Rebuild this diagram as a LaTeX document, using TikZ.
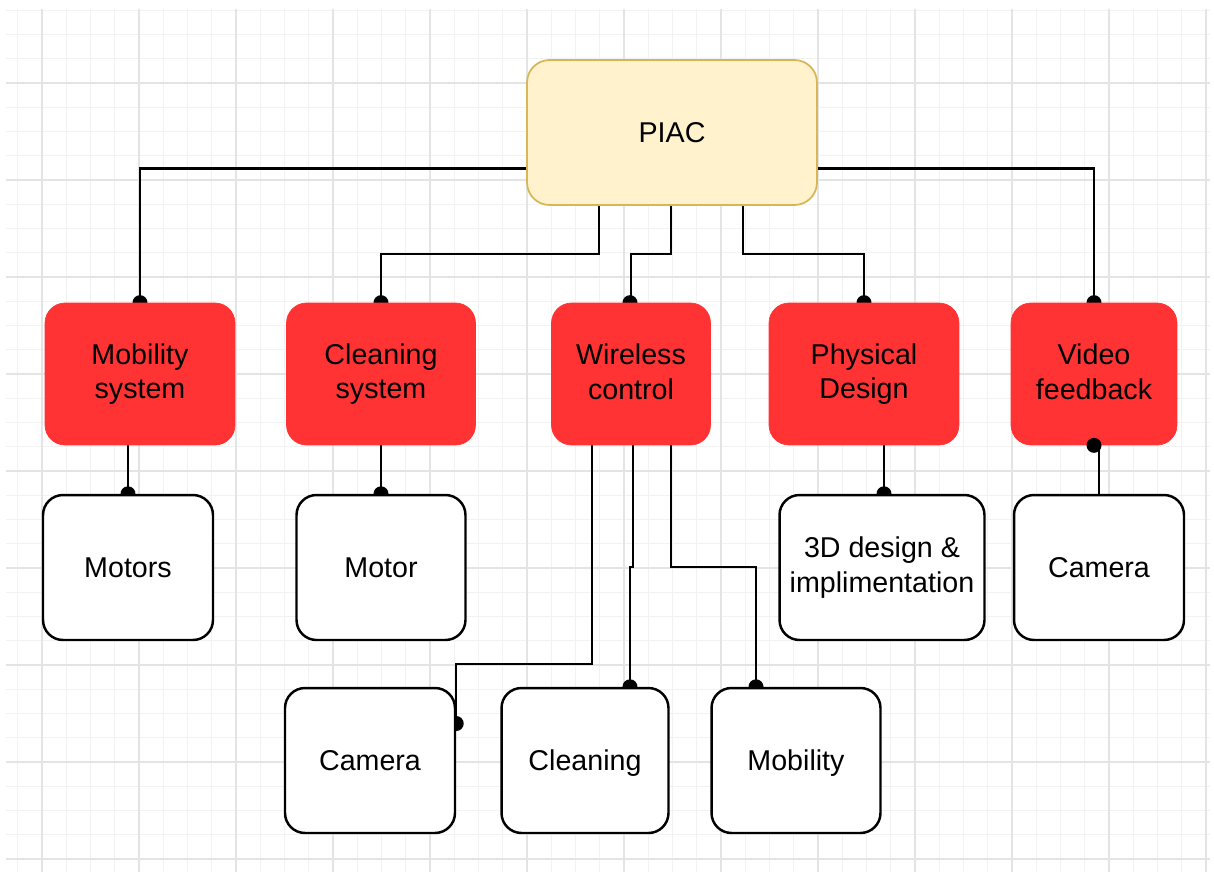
\documentclass[tikz,border=0pt]{standalone}
\usepackage{fontspec}
\setmainfont{Liberation Sans}
\usetikzlibrary{backgrounds}

\definecolor{piacfill}{HTML}{FFF2CC}
\definecolor{piacline}{HTML}{D6B656}
\definecolor{boxred}{HTML}{FF3333}
\definecolor{gridminor}{HTML}{F2F2F2}
\definecolor{gridmajor}{HTML}{E4E4E4}

% strut centred on the capital letters
\newcommand{\capstrut}{\rule[-2.8pt]{0pt}{17.3pt}}

\tikzset{
  topbox/.style={draw=piacline, fill=piacfill, line width=1pt, rounded corners=0.45cm,
    minimum width=5.8cm, minimum height=2.9cm, inner sep=0pt,
    execute at begin node=\capstrut},
  redbox/.style={draw=boxred, fill=boxred, rounded corners=0.4cm,
    minimum height=2.84cm, inner sep=0pt, align=center,
    execute at begin node=\capstrut, execute at end node=\capstrut},
  partbox/.style={draw, fill=white, line width=1.4pt, rounded corners=0.4cm,
    minimum height=2.9cm, inner sep=0pt, align=center,
    execute at begin node=\capstrut, execute at end node=\capstrut},
  link/.style={line width=1.3pt},
}

\begin{document}
\begin{tikzpicture}[x=0.02cm, y=-0.02cm, font=\fontsize{16.3}{19.5}\selectfont]
          \useasboundingbox (0,0) rectangle (1214,877);

          % Nodes for the project and its subsystems
          \node[topbox] (piac) at (672,132.5) {PIAC};
          \node[redbox, minimum width=3.8cm] (mob) at (140,374) {Mobility\\system};
          \node[redbox, minimum width=3.78cm] (clean) at (381,374) {Cleaning\\system};
          \node[redbox, minimum width=3.18cm] (wire) at (631,374) {Wireless\\control};
          \node[redbox, minimum width=3.8cm] (phys) at (864,374) {Physical\\Design};
          \node[redbox, minimum width=3.32cm] (video) at (1094,374) {Video\\feedback};

          % Parts
          \node[partbox, minimum width=3.4cm] (motors) at (128,567.5) {Motors};
          \node[partbox, minimum width=3.38cm] (motor) at (381,567.5) {Motor};
          \node[partbox, minimum width=4.1cm] (design) at (882,567.5) {3D design \&\\implimentation};
          \node[partbox, minimum width=3.4cm] (camB) at (1099,567.5) {Camera};
          \node[partbox, minimum width=3.4cm] (camA) at (370,760.5) {Camera};
          \node[partbox, minimum width=3.34cm] (cleanB) at (585,760.5) {Cleaning};
          \node[partbox, minimum width=3.38cm] (mobB) at (796,760.5) {Mobility};

          \begin{pgfonlayer}{background}
            % Background grid
            \begin{scope}
              \clip (6,9) rectangle (1210,872);
              \foreach \k in {-1,...,48} {
                \draw[gridminor, line width=0.5pt] ({42+24.25*\k},9) -- ({42+24.25*\k},872);
              }
              \foreach \k in {-3,...,32} {
                \draw[gridminor, line width=0.5pt] (6,{83+24.25*\k}) -- (1210,{83+24.25*\k});
              }
              \foreach \k in {0,...,12} {
                \draw[gridmajor, line width=0.6pt] ({42+97*\k},9) -- ({42+97*\k},872);
              }
              \foreach \k in {-1,...,8} {
                \draw[gridmajor, line width=0.6pt] (6,{83+97*\k}) -- (1210,{83+97*\k});
              }
            \end{scope}

            % Edges
            \draw[link] ([yshift=-0.72cm]piac.west) -| (mob.north);
            \draw[link] ([xshift=-1.46cm]piac.south) -- ++(0,48) -| (clean.north);
            \draw[link] ([xshift=-0.02cm]piac.south) -- ++(0,48) -| (wire.north);
            \draw[link] ([xshift=1.42cm]piac.south) -- ++(0,48) -| (phys.north);
            \draw[link] ([yshift=-0.72cm]piac.east) -| (video.north);
            \draw[link] (motors.north |- mob.south) -- (motors.north);
            \draw[link] (clean.south) -- (motor.north);
            \draw[link] ([xshift=0.04cm]design.north |- phys.south) -- ([xshift=0.04cm]design.north);
            \draw[link] (camB.north) -- (camB.north |- video.south);
            \draw[link] ([xshift=-0.78cm]wire.south) -- ++(0,219) -| ([yshift=0.74cm]camA.east);
            \draw[link] ([xshift=0.04cm]wire.south) -- ++(0,122) -| ([xshift=0.9cm]cleanB.north);
            \draw[link] ([xshift=0.8cm]wire.south) -- ++(0,122) -| ([xshift=-0.8cm]mobB.north);

            % End dots
            \fill (mob.north) circle (0.15cm);
            \fill (clean.north) circle (0.15cm);
            \fill ([xshift=-0.02cm]wire.north) circle (0.15cm);
            \fill (phys.north) circle (0.15cm);
            \fill (video.north) circle (0.15cm);
            \fill (motors.north) circle (0.15cm);
            \fill (motor.north) circle (0.15cm);
            \fill ([xshift=0.04cm]design.north) circle (0.15cm);
            \fill ([yshift=0.74cm]camA.east) circle (0.15cm);
            \fill ([xshift=0.9cm]cleanB.north) circle (0.15cm);
            \fill ([xshift=-0.8cm]mobB.north) circle (0.15cm);
          \end{pgfonlayer}

          \fill (video.south) circle (0.15cm);
\end{tikzpicture}
\end{document}
